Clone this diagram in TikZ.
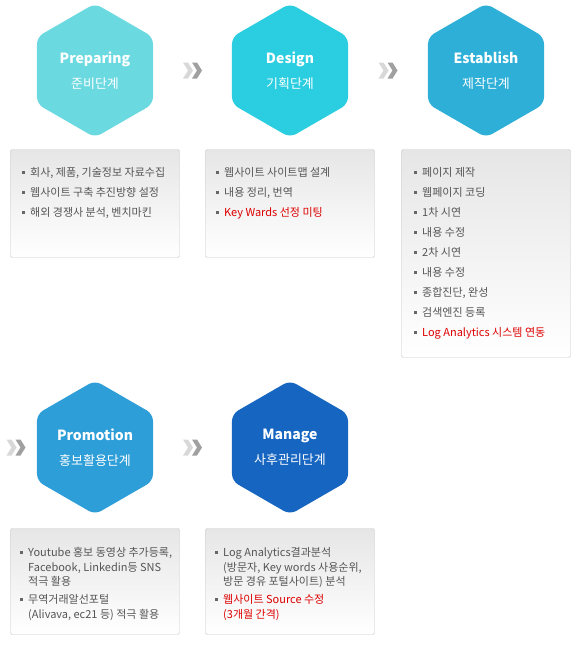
\documentclass[tikz,border=0pt]{standalone}
\usepackage{fontspec}
\setmainfont{Noto Sans CJK KR}
\usepackage{xcolor}
\usepackage{tikz}
\usetikzlibrary{shapes.geometric, positioning, calc}

\definecolor{prepcol}{HTML}{6BD9E0}
\definecolor{descol}{HTML}{2ACEE0}
\definecolor{estcol}{HTML}{2DAFD7}
\definecolor{procol}{HTML}{2E9ED8}
\definecolor{mancol}{HTML}{1665C1}
\definecolor{txtgray}{HTML}{555555}
\definecolor{bulgray}{HTML}{666666}
\definecolor{hired}{HTML}{DD0000}
\definecolor{boxline}{HTML}{C8C8C8}
\definecolor{boxtop}{HTML}{E6E6E6}
\definecolor{chevlight}{HTML}{D8D8D8}
\definecolor{chevdark}{HTML}{A0A0A0}

\newcommand{\blt}{\textcolor{bulgray}{\rule[2.6pt]{3.5pt}{3.5pt}}\hspace{5pt}}
\newcommand{\ind}{\hspace*{8.5pt}}
\newcommand{\chev}[1]{%
  \fill[chevlight] ($(#1)+(-9.5,-8)$) -- ++(5,0) -- ++(5,8) -- ++(-5,8) -- ++(-5,0) -- ++(5,-8) -- cycle;
  \fill[chevdark] ($(#1)+(-0.5,-8)$) -- ++(5,0) -- ++(5,8) -- ++(-5,8) -- ++(-5,0) -- ++(5,-8) -- cycle;}

\begin{document}
\begin{tikzpicture}[x=1pt, y=-1pt,
    hexa/.style={regular polygon, regular polygon sides=6, shape border rotate=30, minimum size=134pt, inner sep=0pt, outer sep=0pt, rounded corners=7pt, text=white, align=center, font=\fontsize{13}{16}\selectfont},
    listbox/.style={rectangle, draw=boxline, top color=boxtop, middle color=white, bottom color=white, rounded corners=1.5pt, minimum width=169pt, inner sep=0pt, outer sep=0pt},
    btxt/.style={align=left, inner sep=0pt, text=txtgray, font=\fontsize{11}{20}\selectfont},
    btxtw/.style={align=left, inner sep=0pt, text=txtgray, font=\fontsize{11}{14.5}\selectfont}]

    \useasboundingbox (0,0) rectangle (580,648);

    % Steps
    \node [hexa, fill=prepcol] at (95,70.5) (prep) {{\fontsize{14}{16}\selectfont\bfseries Preparing}\\[9pt]준비단계};
    \node [hexa, fill=descol] at (290,70.5) (design) {{\fontsize{14}{16}\selectfont\bfseries Design}\\[9pt]기획단계};
    \node [hexa, fill=estcol] at (486,70.5) (est) {{\fontsize{14}{16}\selectfont\bfseries Establish}\\[9pt]제작단계};
    \node [hexa, fill=procol] at (95,447.5) (promo) {{\fontsize{14}{16}\selectfont\bfseries Promotion}\\[9pt]홍보활용단계};
    \node [hexa, fill=mancol] at (290,447.5) (manage) {{\fontsize{14}{16}\selectfont\bfseries Manage}\\[9pt]사후관리단계};

    % Chevrons
    \coordinate (ch1) at ($(prep)!0.5!(design)$);
    \coordinate (ch2) at ($(design)!0.5!(est)$);
    \coordinate (ch3) at ($(promo)+(-79,0)$);
    \coordinate (ch4) at ($(promo)!0.5!(manage)$);
    \chev{ch1}
    \chev{ch2}
    \chev{ch3}
    \chev{ch4}

    % Task boxes
    \node [listbox, minimum height=108pt, below=12pt of prep] (b1) {};
    \node [listbox, minimum height=108pt, below=12pt of design] (b2) {};
    \node [listbox, minimum height=208pt, below=12pt of est] (b3) {};
    \node [listbox, minimum height=106pt, below=14pt of promo] (b4) {};
    \node [listbox, minimum height=106pt, below=14pt of manage] (b5) {};

    \node [btxt, below right=18pt and 11pt of b1.north west] (t1) {\blt 회사, 제품, 기술정보 자료수집\\ \blt 웹사이트 구축 추진방향 설정\\ \blt 해외 경쟁사 분석, 벤치마킨};
    \node [btxt, below right=18pt and 10pt of b2.north west] (t2) {\blt 웹사이트 사이트맵 설계\\ \blt 내용 정리, 번역\\ \blt \textcolor{hired}{Key Wards 선정 미팅}};
    \node [btxt, below right=18pt and 12pt of b3.north west] (t3) {\blt 페이지 제작\\ \blt 웹페이지 코딩\\ \blt 1차 시연\\ \blt 내용 수정\\ \blt 2차 시연\\ \blt 내용 수정\\ \blt 종합진단, 완성\\ \blt 검색엔진 등록\\ \blt \textcolor{hired}{Log Analytics 시스템 연동}};
    \node [btxtw, below right=19pt and 9pt of b4.north west] (t4) {\blt Youtube 홍보 동영상 추가등록,\\ \ind Facebook, Linkedin등 SNS\\ \ind 적극 활용\\[3.5pt] \blt 무역거래알선포털\\ \ind (Alivava, ec21 등) 적극 활용};
    \node [btxtw, below right=19pt and 9pt of b5.north west] (t5) {\blt Log Analytics결과분석\\ \ind (방문자, Key words 사용순위,\\ \ind 방문 경유 포털사이트) 분석\\[3.5pt] \blt \textcolor{hired}{웹사이트 Source 수정}\\ \ind \textcolor{hired}{(3개월 간격)}};

\end{tikzpicture}
\end{document}
